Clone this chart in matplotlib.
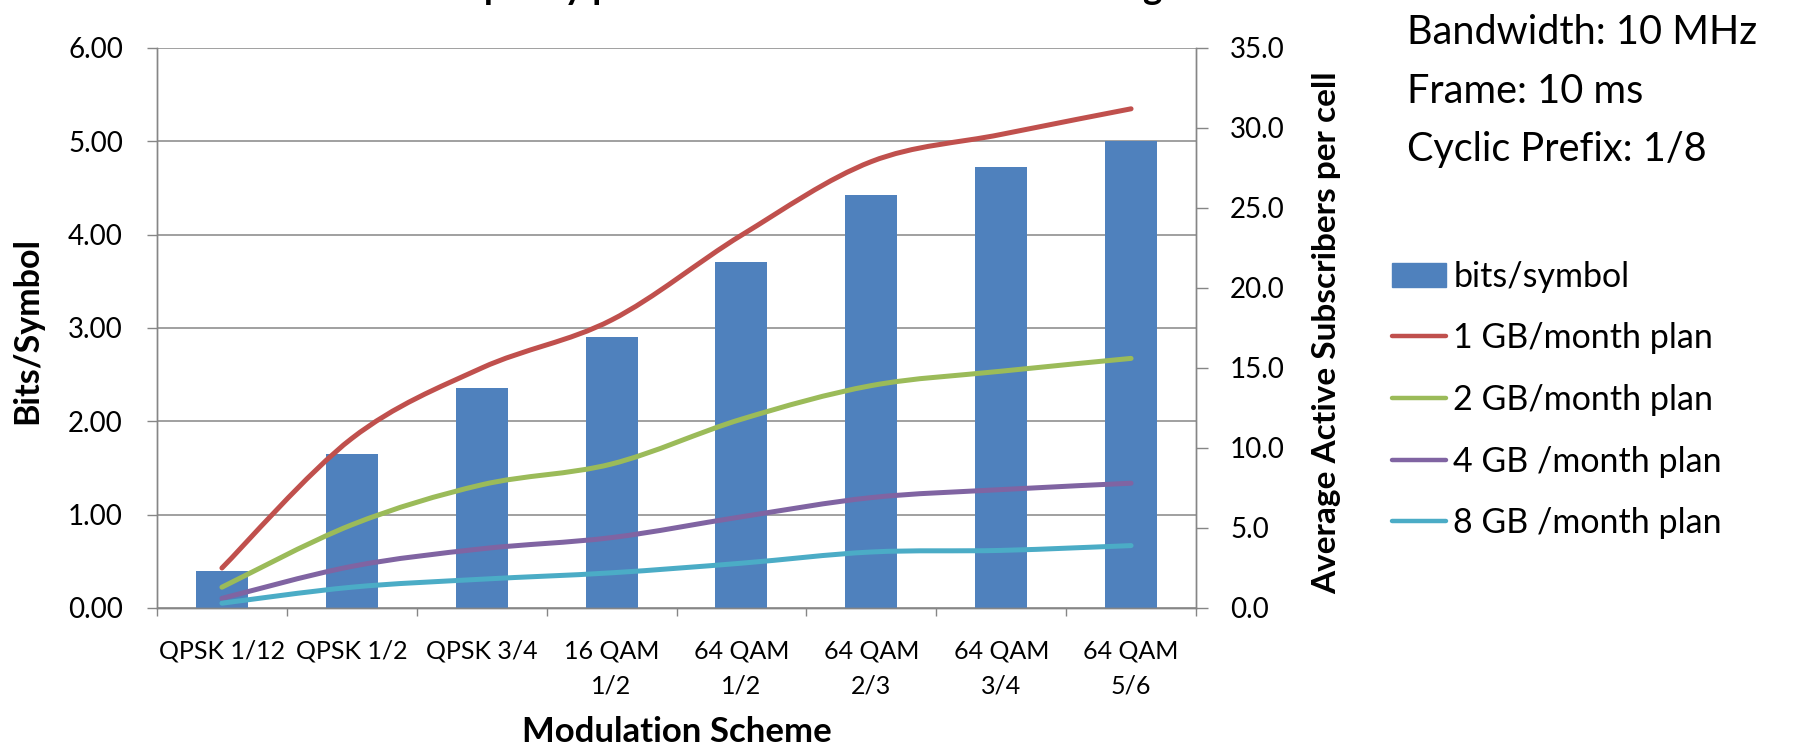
import matplotlib
matplotlib.use('Agg')
import matplotlib.pyplot as plt
from matplotlib.path import Path
from matplotlib.patches import PathPatch, Patch
from matplotlib.lines import Line2D
import numpy as np

plt.rcParams['font.family'] = ['Lato', 'DejaVu Sans']

# modulation schemes and capacity per cell
schemes = ['QPSK 1/12', 'QPSK 1/2', 'QPSK 3/4', '16 QAM\n1/2', '64 QAM\n1/2',
           '64 QAM\n2/3', '64 QAM\n3/4', '64 QAM\n5/6']
bits_per_symbol = [0.40, 1.65, 2.36, 2.90, 3.71, 4.43, 4.73, 5.00]
subs_1gb = [2.5, 10.6, 15.0, 18.0, 23.3, 27.9, 29.6, 31.2]
subs_2gb = [1.3, 5.2, 7.7, 9.0, 11.8, 13.9, 14.8, 15.6]
subs_4gb = [0.6, 2.6, 3.7, 4.4, 5.7, 6.9, 7.4, 7.8]
subs_8gb = [0.3, 1.3, 1.8, 2.2, 2.8, 3.5, 3.6, 3.9]
plan_labels = ['1 GB/month plan', '2 GB/month plan', '4 GB /month plan', '8 GB /month plan']
plan_colors = ['#C0504D', '#9BBB59', '#8064A2', '#4BACC6']
bar_color = '#4F81BD'
grid_color = '#868686'
notes = ['Bandwidth: 10 MHz', 'Frame: 10 ms', 'Cyclic Prefix: 1/8']


def smooth_path(xs, ys):
    # catmull-rom style bezier through every point (like excel's smoothed line)
    pts = np.column_stack([xs, ys]).astype(float)
    n = len(pts)
    verts = [pts[0]]
    codes = [Path.MOVETO]
    for i in range(n - 1):
        p0 = pts[i - 1] if i > 0 else pts[i]
        p1 = pts[i]
        p2 = pts[i + 1]
        p3 = pts[i + 2] if i + 2 < n else pts[i + 1]
        verts += [p1 + (p2 - p0) / 6, p2 - (p3 - p1) / 6, p2]
        codes += [Path.CURVE4] * 3
    return Path(verts, codes)


W, H = 1801, 745
fig = plt.figure(figsize=(W / 100, H / 100), dpi=100)
ax = fig.add_axes([157 / W, 1 - 608 / H, 1039 / W, 560 / H])
ax2 = ax.twinx()

x = np.arange(len(schemes))
ax.bar(x, bits_per_symbol, width=0.40, color=bar_color, zorder=2)
ax.set_xlim(-0.5, len(schemes) - 0.5)
ax.set_ylim(0, 6)
ax.set_yticks(np.arange(0, 7, 1))
ax.yaxis.set_major_formatter(matplotlib.ticker.FormatStrFormatter('%.2f'))
ax.set_axisbelow(True)
ax.grid(axis='y', color=grid_color, lw=1.1)

ax.set_xticks(x)
ax.set_xticklabels(schemes, fontsize=18, linespacing=1.6, va='top')
ax.set_xticks(np.arange(-0.5, len(schemes)), minor=True)
ax.tick_params(axis='x', which='major', length=0, pad=23)
ax.tick_params(axis='x', which='minor', length=6, width=1, color=grid_color)
ax.tick_params(axis='y', length=7.5, width=1, color=grid_color, labelsize=20, pad=17)

series = [subs_1gb, subs_2gb, subs_4gb, subs_8gb]
for vals, col in zip(series, plan_colors):
    ax2.add_patch(PathPatch(smooth_path(x, vals), fill=False, edgecolor=col,
                            lw=3.6, capstyle='round', joinstyle='round', zorder=3))
ax2.set_ylim(0, 35)
ax2.set_yticks(np.arange(0, 36, 5))
ax2.yaxis.set_major_formatter(matplotlib.ticker.FormatStrFormatter('%.1f'))
ax2.tick_params(axis='y', length=8.5, width=1, color=grid_color, labelsize=20, pad=16)

for a in (ax, ax2):
    a.spines['top'].set_visible(False)
    for s in ('left', 'right', 'bottom'):
        a.spines[s].set_color(grid_color)
        a.spines[s].set_linewidth(1.0)

ax.set_xlabel('Modulation Scheme', fontsize=25, fontweight='bold')
ax.xaxis.set_label_coords(0.5, -0.221)
ax.xaxis.label.set_va('center')
ax.set_ylabel('Bits/Symbol', fontsize=24.5, fontweight='bold')
ax.yaxis.set_label_coords(-0.125, 0.496)
ax.yaxis.label.set_va('center')
ax.yaxis.label.set_ha('center')
ax2.set_ylabel('Average Active Subscribers per cell', fontsize=24, fontweight='bold')
ax2.yaxis.set_label_coords(1.126, 0.491)
ax2.yaxis.label.set_va('center')
ax2.yaxis.label.set_ha('center')

# chart title sits mostly above the canvas
fig.text(802 / W, 1 + 1 / H, 'Capacity per Cell vs. Modulation and Coding',
         ha='center', va='baseline', fontsize=26.5, fontweight='bold')

for i, t in enumerate(notes):
    fig.text(1407 / W, 1 - (33 + 58.5 * i) / H, t, ha='left', va='center', fontsize=28.5)

handles = [Patch(color=bar_color, label='bits/symbol')]
handles += [Line2D([], [], color=c, lw=3.2, solid_capstyle='round', label=l)
            for c, l in zip(plan_colors, plan_labels)]
fig.legend(handles=handles, loc='center left', bbox_to_anchor=(1392 / W, 1 - 400 / H),
           frameon=False, fontsize=24.5, handlelength=1.6, handletextpad=0.2,
           labelspacing=0.87, borderpad=0, borderaxespad=0)

fig.savefig('out.png', dpi=100)
